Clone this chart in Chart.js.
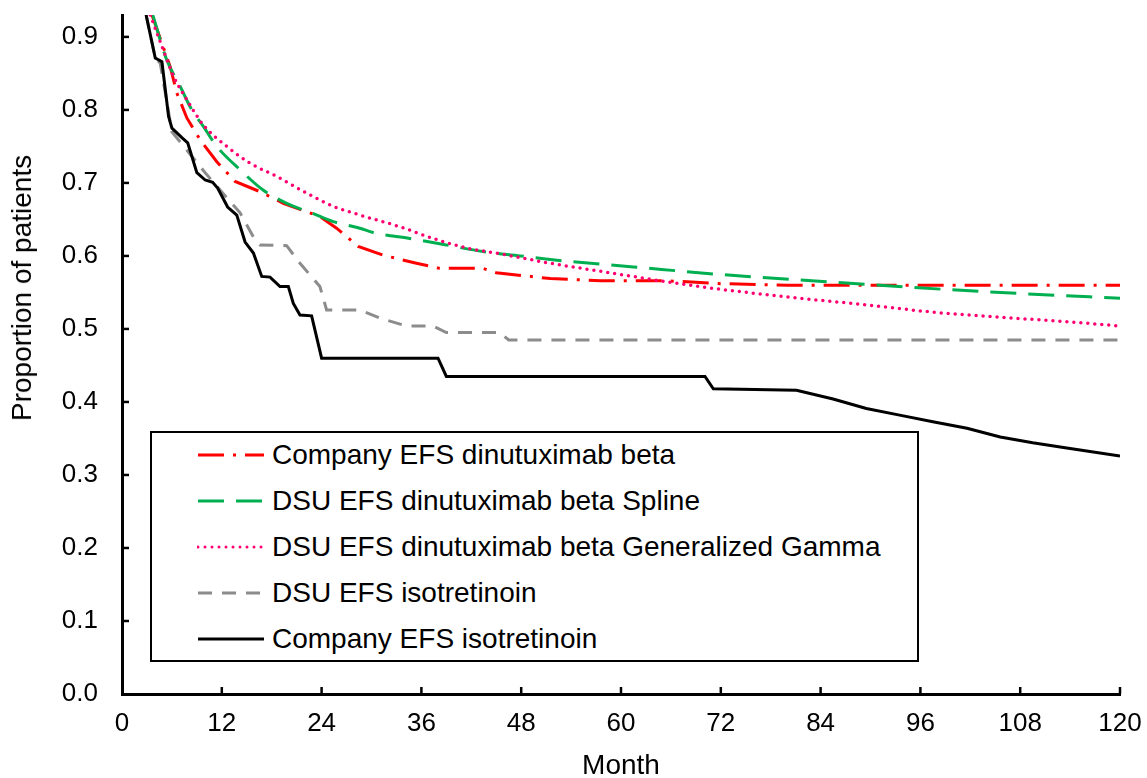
<!DOCTYPE html>
<html>
<head>
<meta charset="utf-8">
<title>EFS curves</title>
<script src="https://cdn.jsdelivr.net/npm/chart.js@4.4.1/dist/chart.umd.min.js"></script>
<style type="text/css">
	body { margin: 0; background: #fff; font-family: "Liberation Sans", Arial, sans-serif; }
	#wrap { position: relative; width: 1147px; height: 778px; }
	#yTitle {
		position: absolute; left: 22px; top: 288px; font-size: 28px; color: #000;
		white-space: nowrap; transform: translate(-50%, -50%) rotate(-90deg);
	}
	#legendBox {
		position: absolute; left: 150px; top: 431px; width: 765px; height: 227px;
		border: 2px solid #000; background: #fff;
	}
	.legRow { position: absolute; left: 45px; height: 46px; display: flex; align-items: center; font-size: 28px; color: #000; white-space: nowrap; }
	.legRow svg { margin-right: 7px; }
</style>
</head>
<body>

<div id="wrap">
	<canvas id="efsChart" width="1147" height="778"></canvas>
	<div id="yTitle">Proportion of patients</div>
	<div id="legendBox"></div>
</div>

<script type="text/javascript">

// x ticks (months) and y ticks
var monthTicks = [0, 12, 24, 36, 48, 60, 72, 84, 96, 108, 120];
var yTicks = [0.0, 0.1, 0.2, 0.3, 0.4, 0.5, 0.6, 0.7, 0.8, 0.9];

// Company EFS dinutuximab beta
var companyDinMonths = [3.6, 5.8, 6.6, 7.8, 9.4, 11.4, 13.6, 16.6, 19.4, 23.8, 25.8, 28.4, 31.4, 35.4, 38.2, 43.4, 45.0, 51.5, 57.5, 65.5, 72.0, 80.0, 120];
var companyDinValues = [0.93, 0.859, 0.823, 0.789, 0.759, 0.729, 0.702, 0.688, 0.672, 0.654, 0.638, 0.613, 0.601, 0.590, 0.583, 0.583, 0.577, 0.569, 0.566, 0.566, 0.562, 0.560, 0.560];

// DSU EFS dinutuximab beta Spline
var dsuSplineMonths = [3.7, 5.4, 7.0, 8.4, 9.8, 11.4, 14.2, 17.0, 19.8, 23.0, 25.4, 28.6, 30.2, 34.6, 39.0, 43.4, 47.9, 51.5, 61.5, 71.5, 81.5, 89.5, 99.2, 108.8, 120];
var dsuSplineValues = [0.93, 0.868, 0.832, 0.800, 0.777, 0.750, 0.718, 0.690, 0.672, 0.658, 0.647, 0.638, 0.632, 0.624, 0.615, 0.606, 0.600, 0.595, 0.585, 0.575, 0.567, 0.561, 0.554, 0.548, 0.542];

// DSU EFS dinutuximab beta Generalized Gamma
var dsuGammaMonths = [3.4, 4.8, 6.2, 7.8, 9.8, 12.6, 15.4, 18.6, 22.2, 25.4, 28.6, 33.4, 37.4, 41.4, 45.4, 51.5, 57.5, 69.5, 81.5, 89.5, 97.5, 105.6, 113.6, 120];
var dsuGammaValues = [0.93, 0.887, 0.846, 0.814, 0.779, 0.750, 0.727, 0.709, 0.686, 0.668, 0.656, 0.640, 0.624, 0.611, 0.603, 0.590, 0.579, 0.558, 0.542, 0.533, 0.523, 0.516, 0.510, 0.504];

// DSU EFS isotretinoin
var dsuIsoMonths = [2.9, 4.0, 4.6, 6.0, 10.0, 12.8, 14.2, 15.8, 16.6, 19.8, 21.4, 23.8, 24.6, 28.6, 31.0, 34.2, 37.4, 39.0, 45.4, 46.5, 120];
var dsuIsoValues = [0.93, 0.871, 0.864, 0.770, 0.714, 0.677, 0.659, 0.626, 0.615, 0.614, 0.590, 0.558, 0.526, 0.526, 0.515, 0.504, 0.504, 0.495, 0.495, 0.485, 0.485];

// Company EFS isotretinoin
var companyIsoMonths = [2.9, 4.0, 4.8, 5.6, 6.0, 7.2, 7.9, 9.0, 10.0, 10.9, 11.5, 12.7, 13.8, 14.8, 15.8, 16.8, 17.8, 19.0, 20.0, 20.6, 21.4, 22.8, 24.0, 38.0, 39.0, 70.1, 71.1, 81.1, 85.5, 89.5, 93.5, 97.5, 101.6, 105.6, 109.5, 113.6, 120];
var companyIsoValues = [0.93, 0.871, 0.866, 0.791, 0.775, 0.762, 0.755, 0.714, 0.704, 0.701, 0.693, 0.667, 0.656, 0.619, 0.604, 0.572, 0.571, 0.558, 0.558, 0.535, 0.519, 0.518, 0.460, 0.460, 0.435, 0.435, 0.418, 0.416, 0.404, 0.391, 0.382, 0.373, 0.364, 0.352, 0.344, 0.337, 0.326];

var seriesNames = ['Company EFS dinutuximab beta', 'DSU EFS dinutuximab beta Spline', 'DSU EFS dinutuximab beta Generalized Gamma', 'DSU EFS isotretinoin', 'Company EFS isotretinoin'];
var seriesColors = ['#FF0000', '#00B050', '#FF0070', '#8C8C8C', '#000000'];
var seriesDash = [[26, 9, 3, 9], [26, 12], [0, 7], [14, 10], []];

function toPoints(months, values) {
	var pts = [];
	for (var i = 0; i < months.length; i++) {
		pts.push({ x: months[i], y: values[i] });
	}
	return pts;
}

var allMonths = [companyDinMonths, dsuSplineMonths, dsuGammaMonths, dsuIsoMonths, companyIsoMonths];
var allValues = [companyDinValues, dsuSplineValues, dsuGammaValues, dsuIsoValues, companyIsoValues];
var smooth = [false, true, true, false, false];

var datasets = [];
for (var i = 0; i < seriesNames.length; i++) {
	datasets.push({
		label: seriesNames[i],
		data: toPoints(allMonths[i], allValues[i]),
		borderColor: seriesColors[i],
		borderWidth: i === 2 ? 3.5 : 3,
		borderDash: seriesDash[i],
		borderCapStyle: i === 2 ? 'round' : 'butt',
		pointRadius: 0,
		fill: false,
		cubicInterpolationMode: smooth[i] ? 'monotone' : 'default',
		tension: 0,
		order: 4 - i
	});
}

// small tick marks pointing into the plot
var innerTicks = {
	id: 'innerTicks',
	afterDraw: function(chart) {
		var ctx = chart.ctx, xs = chart.scales.x, ys = chart.scales.y, area = chart.chartArea;
		ctx.save();
		ctx.strokeStyle = '#000';
		ctx.lineWidth = 2.5;
		xs.ticks.forEach(function(t) {
			if (t.value === 0) return;
			var px = xs.getPixelForValue(t.value);
			ctx.beginPath(); ctx.moveTo(px, area.bottom); ctx.lineTo(px, area.bottom - 7); ctx.stroke();
		});
		ys.ticks.forEach(function(t) {
			if (t.value === 0) return;
			var py = ys.getPixelForValue(t.value);
			ctx.beginPath(); ctx.moveTo(area.left, py); ctx.lineTo(area.left + 7, py); ctx.stroke();
		});
		ctx.restore();
	}
};

var ctx = document.getElementById('efsChart').getContext('2d');
var chartJS = new Chart(ctx, {
	type: 'line',
	data: { datasets: datasets },
	options: {
		responsive: false,
		animation: false,
		devicePixelRatio: 1,
		layout: { padding: { top: 15, right: 27, left: 0, bottom: 0 } },
		plugins: { legend: { display: false }, tooltip: { enabled: false } },
		scales: {
			x: {
				type: 'linear',
				min: 0,
				max: 120,
				afterFit: function(scale) { scale.height = 84; scale.paddingLeft = 0; scale.paddingRight = 0; },
				afterBuildTicks: function(scale) { scale.ticks = monthTicks.map(function(v) { return { value: v }; }); },
				grid: { display: false, drawTicks: false },
				border: { display: true, color: '#000', width: 3 },
				ticks: { color: '#000', padding: 14, maxRotation: 0, font: { family: 'Liberation Sans', size: 26 } },
				title: { display: true, text: 'Month', color: '#000', padding: 0, font: { family: 'Liberation Sans', size: 28, lineHeight: 0.85 } }
			},
			y: {
				min: 0,
				max: 0.93,
				afterFit: function(scale) { scale.width = 122; scale.paddingTop = 0; scale.paddingBottom = 0; },
				afterBuildTicks: function(scale) { scale.ticks = yTicks.map(function(v) { return { value: v }; }); },
				grid: { display: false, drawTicks: false },
				border: { display: true, color: '#000', width: 3 },
				ticks: {
					color: '#000', padding: 24,
					font: { family: 'Liberation Sans', size: 26 },
					callback: function(v) { return Number(v).toFixed(1); }
				}
			}
		}
	},
	plugins: [innerTicks]
});

// legend drawn as html box inside the plot
function buildLegend() {
	var box = document.getElementById('legendBox');
	var rowTops = [0, 46, 92, 138, 184];
	for (var i = 0; i < seriesNames.length; i++) {
		var row = document.createElement('div');
		row.className = 'legRow';
		row.style.top = (rowTops[i] - 1) + 'px';
		var dash = seriesDash[i].length ? seriesDash[i].join(',') : 'none';
		var cap = i === 2 ? 'round' : 'butt';
		row.innerHTML = '<svg width="68" height="10"><line x1="1" y1="5" x2="67" y2="5" stroke="' + seriesColors[i] +
			'" stroke-width="3" stroke-dasharray="' + dash + '" stroke-linecap="' + cap + '"/></svg><span>' + seriesNames[i] + '</span>';
		box.appendChild(row);
	}
}
buildLegend();

</script>

</body>
</html>
